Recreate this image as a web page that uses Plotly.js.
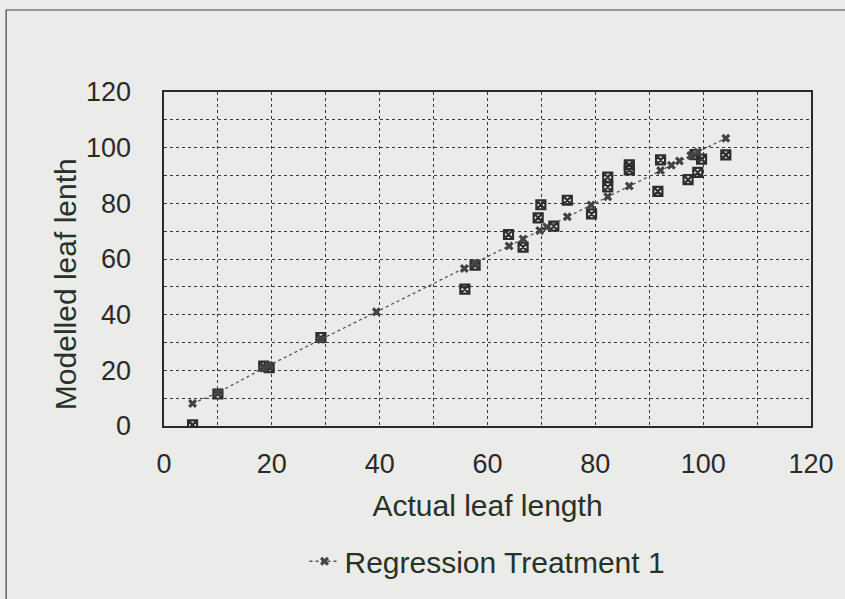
<!DOCTYPE html>
<html>
<head>
<meta charset="utf-8">
<script src="https://cdn.plot.ly/plotly-3.0.1.min.js"></script>
<style>
html,body{margin:0;padding:0;background:#ebebe9;}
#chart{width:845px;height:599px;}
</style>
</head>
<body>
<div id="chart"></div>
<script>
// Regression series (points on the fitted line)
const regX = [5.3, 10, 18.5, 19.5, 29.1, 39.4, 55.7, 57.7, 64, 66.6, 69.7, 71, 74.8, 79.2, 82.3, 86.3, 92.1, 94.1, 95.6, 97.7, 99, 104.2];
const regY = [8.1, 12.0, 20.8, 21.8, 31.1, 41.0, 56.6, 58.5, 64.7, 67.2, 70.2, 71.5, 75.2, 79.4, 82.4, 86.2, 91.8, 93.7, 95.2, 97.2, 98.4, 103.4];
// Observed points (modelled vs actual)
const obsX = [5.3, 10, 18.5, 19.5, 29.1, 55.8, 57.7, 63.9, 66.6, 69.4, 69.9, 72.3, 74.8, 79.3, 82.3, 82.3, 86.3, 86.3, 91.6, 92.1, 97.2, 98.5, 99, 99.7, 104.2];
const obsY = [0.4, 11.5, 21.5, 21.0, 31.8, 49.2, 57.8, 68.8, 64.3, 74.8, 79.5, 71.8, 81.1, 76.2, 85.9, 89.4, 93.8, 92.0, 84.3, 95.6, 88.5, 97.5, 91.1, 95.9, 97.4];

const xTicks = [0, 20, 40, 60, 80, 100, 120];
const yTicks = [0, 20, 40, 60, 80, 100, 120];

const font = "Arial, 'Liberation Sans', sans-serif";
const titleColor = '#263326';

const traces = [
  {
    x: obsX, y: obsY, type: 'scatter', mode: 'markers', name: 'Treatment 1',
    showlegend: false,
    marker: {symbol: 'square-x-open', size: 9, color: '#2e2e2e', line: {width: 2.2, color: '#2e2e2e'}}
  },
  {
    x: regX, y: regY, type: 'scatter', mode: 'lines+markers', name: 'Regression Treatment 1',
    line: {dash: 'dot', width: 1.3, color: '#555555'},
    marker: {symbol: 'x', size: 8, color: '#444444'}
  }
];

const layout = {
  width: 845, height: 599,
  margin: {l: 164, r: 34, t: 92, b: 171},
  paper_bgcolor: '#ebebe9',
  plot_bgcolor: '#ebebe9',
  font: {family: font, color: '#2a2a2a'},
  showlegend: true,
  xaxis: {
    range: [0, 120], tickvals: xTicks, ticktext: xTicks.map(String),
    showgrid: true, gridcolor: '#3a3a3a', griddash: 'dot', gridwidth: 1,
    minor: {dtick: 10, showgrid: true, gridcolor: '#3a3a3a', griddash: 'dot', gridwidth: 1},
    showline: true, linecolor: '#2a2a2a', linewidth: 1.6, mirror: true,
    zeroline: false, ticks: '', ticklabelstandoff: 13,
    tickfont: {size: 27, color: '#2a2a2a'},
    title: {text: 'Actual leaf length', font: {size: 30, color: titleColor}, standoff: 17},
    automargin: false
  },
  yaxis: {
    range: [0, 120], tickvals: yTicks, ticktext: yTicks.map(String),
    showgrid: true, gridcolor: '#3a3a3a', griddash: 'dot', gridwidth: 1,
    minor: {dtick: 10, showgrid: true, gridcolor: '#3a3a3a', griddash: 'dot', gridwidth: 1},
    showline: true, linecolor: '#2a2a2a', linewidth: 1.6, mirror: true,
    zeroline: false, ticks: '', ticklabelstandoff: 26,
    tickfont: {size: 27, color: '#2a2a2a'},
    automargin: false
  },
  annotations: [{
    text: 'Modelled leaf lenth', textangle: -90,
    xref: 'paper', yref: 'paper',
    x: (65 - 164) / 647, y: (427.7 - 285) / 336,
    xanchor: 'center', yanchor: 'middle', showarrow: false,
    font: {size: 30, color: titleColor}
  }],
  legend: {
    orientation: 'h', x: 0.5, xanchor: 'center', y: -0.405, yanchor: 'middle',
    font: {size: 30, color: titleColor}, bgcolor: 'rgba(0,0,0,0)'
  },
  shapes: [{
    type: 'rect', xref: 'paper', yref: 'paper',
    x0: -0.2440, x1: 1.08, y0: -0.56, y1: 1.2455,
    line: {color: '#444444', width: 1.2}, fillcolor: 'rgba(0,0,0,0)', layer: 'below'
  }]
};

Plotly.newPlot('chart', traces, layout, {displayModeBar: false, staticPlot: true});
</script>
</body>
</html>
